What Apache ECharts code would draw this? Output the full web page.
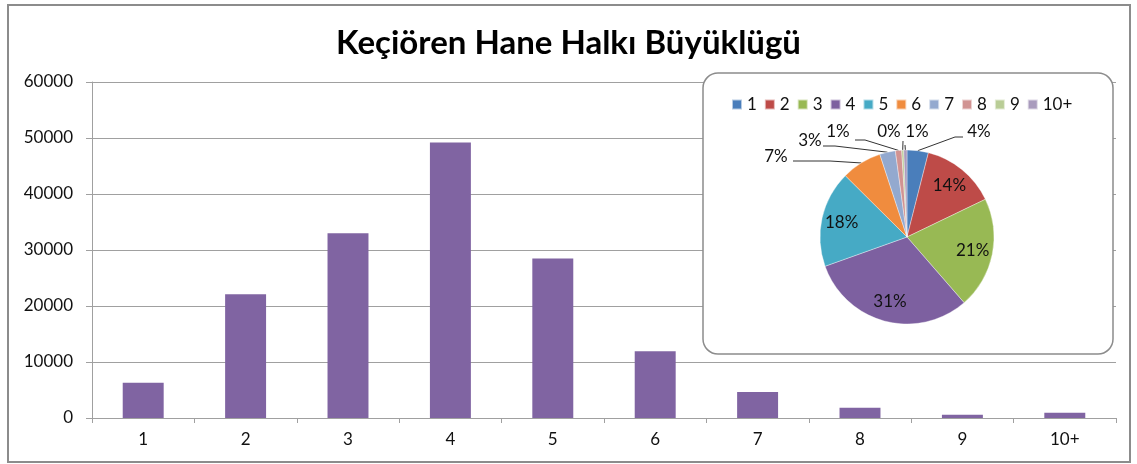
<!DOCTYPE html>
<html><head><meta charset="utf-8">
<script src="https://cdn.jsdelivr.net/npm/echarts@6/dist/echarts.min.js"></script>
<style>html,body{margin:0;padding:0;background:#fff}#c{width:1137px;height:464px}</style>
</head><body><div id="c"></div>
<script>
const titleText = 'Keçiören Hane Halkı Büyüklügü';
const categories = ['1','2','3','4','5','6','7','8','9','10+'];
const households = [6300, 22100, 33000, 49200, 28500, 11900, 4640, 1850, 600, 950];
const yTicks = [0, 10000, 20000, 30000, 40000, 50000, 60000];
const pieColors = ['#4a7ebb','#be4b48','#98b954','#7d60a0','#46aac5','#f08c3e','#93a9cf','#d19392','#b9cd96','#a99bbd'];

const total = households.reduce((a,b)=>a+b,0);
const FONT = 'Lato, "Open Sans", sans-serif';
const PIE_C = [907, 237];
const PIE_R = 87;
const insideIdx = [1,2,3,4];
// outside label placement, relative to pie centre: text centre, bend, end of leader line
const outsideLayout = {
  0:{t:[72,-105], b:[48,-100], e:[56,-100]},
  9:{t:[10,-105], b:[-2,-92], e:[-2,-92]},
  8:{t:[-18,-105], b:[-4,-96], e:[-4,-96]},
  7:{t:[-69,-105], b:[-42,-97], e:[-52,-97]},
  6:{t:[-97,-96], b:[-72,-91], e:[-84,-91]},
  5:{t:[-131,-80], b:[-77,-76], e:[-114,-76]}
};

const pieData = categories.map((c,i)=>{
  const d = {name:c, value:households[i], itemStyle:{color:pieColors[i]}};
  if (insideIdx.includes(i)) {
    d.label = {position:'inside'};
    d.labelLine = {show:false};
  } else {
    d.label = {position:'outside'};
    d.labelLine = {show:true, length:10, length2:10};
  }
  return d;
});

const chart = echarts.init(document.getElementById('c'));
chart.setOption({
  animation:false,
  textStyle:{fontFamily:FONT},
  title:{text:titleText,left:'center',top:22,textStyle:{fontFamily:FONT,fontWeight:'bold',fontSize:33,color:'#000'}},
  graphic:[
    {type:'rect',shape:{x:8,y:5,width:1122,height:457},style:{fill:'none',stroke:'#8c8c8c',lineWidth:2},z:0},
    {type:'rect',shape:{x:703,y:73,width:410,height:281,r:15},style:{fill:'#fff',stroke:'#8c8c8c',lineWidth:1.5},z:1}
  ],
  grid:{left:92,right:21,top:82,bottom:46},
  xAxis:{type:'category',data:categories,
    axisLine:{lineStyle:{color:'#a0a0a0'}},
    axisTick:{show:true,length:5,lineStyle:{color:'#a0a0a0'}},
    axisLabel:{fontFamily:FONT,fontSize:17,color:'#111',margin:13}},
  yAxis:{type:'value',min:yTicks[0],max:yTicks[yTicks.length-1],interval:yTicks[1]-yTicks[0],
    axisLine:{show:true,lineStyle:{color:'#a0a0a0'}},
    axisTick:{show:true,length:6,lineStyle:{color:'#a0a0a0'}},
    splitLine:{lineStyle:{color:'#a0a0a0'}},
    axisLabel:{fontFamily:FONT,fontSize:17,color:'#111',margin:19,formatter:v=>String(v)}},
  legend:{data:categories,left:726,top:91,itemWidth:10,itemHeight:10,itemGap:7,icon:'rect',
    textStyle:{fontFamily:FONT,fontSize:17,color:'#111'},z:5},
  series:[
    {type:'bar',data:households,barCategoryGap:'60%',itemStyle:{color:'#8064a2'},z:2},
    {type:'pie',center:PIE_C,radius:PIE_R,startAngle:90,clockwise:true,avoidLabelOverlap:false,z:5,
      data:pieData,
      itemStyle:{borderColor:'rgba(255,255,255,0.6)',borderWidth:0.6},
      label:{fontFamily:FONT,fontSize:17,color:'#111',
        formatter:p=>Math.round(p.value/total*100)+'%'},
      labelLine:{lineStyle:{color:'#333',width:1}},
      labelLayout:function(p){
        const i = p.dataIndex;
        const cx = PIE_C[0], cy = PIE_C[1];
        if (insideIdx.includes(i)) {
          const lx = p.labelRect.x + p.labelRect.width/2;
          const ly = p.labelRect.y + p.labelRect.height/2;
          return {x: cx + (lx-cx)*1.44, y: cy + (ly-cy)*1.44, align:'center', verticalAlign:'middle'};
        }
        const o = outsideLayout[i];
        const edge = p.labelLinePoints ? p.labelLinePoints[0] : [cx, cy-PIE_R];
        return {x: cx+o.t[0], y: cy+o.t[1], align:'center', verticalAlign:'middle',
          labelLinePoints:[edge, [cx+o.b[0], cy+o.b[1]], [cx+o.e[0], cy+o.e[1]]]};
      }}
  ]
});
</script></body></html>
